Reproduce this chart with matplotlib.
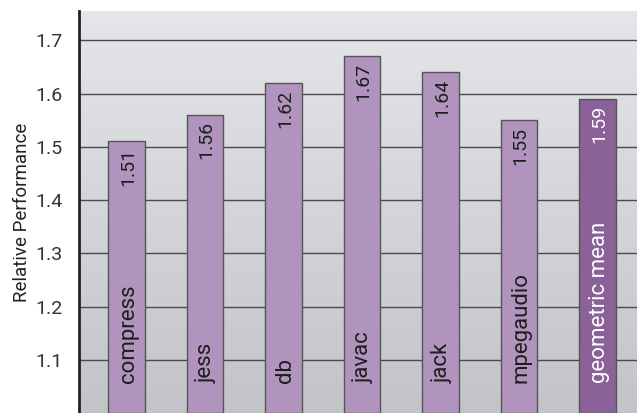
import numpy as np
import matplotlib.pyplot as plt
from matplotlib.colors import LinearSegmentedColormap

plt.rcParams['font.family'] = ['Roboto', 'DejaVu Sans']

benchmarks = ["compress", "jess", "db", "javac", "jack", "mpegaudio", "geometric mean"]
perf = [1.51, 1.56, 1.62, 1.67, 1.64, 1.55, 1.59]
yticks = [1.1, 1.2, 1.3, 1.4, 1.5, 1.6, 1.7]

light = "#b194be"
dark = "#8a6198"

fig = plt.figure(figsize=(6.37, 4.13), dpi=100)
ax = fig.add_axes([79/637, 0, 558/637, 402/413])

ymin, ymax = 1.0, 1.755
xmin, xmax = -0.605, 6.503
ax.set_xlim(xmin, xmax)
ax.set_ylim(ymin, ymax)

# gradient background
grad = np.linspace(0, 1, 256).reshape(-1, 1)
cm = LinearSegmentedColormap.from_list("bg", ["#c3c4c7", "#e5e6e9"])
ax.imshow(grad, cmap=cm, aspect="auto", extent=[xmin, xmax, ymin, ymax],
          origin="lower", zorder=0)

for y in yticks:
    ax.axhline(y, color="#4a4a4a", lw=1.0, zorder=1)

x = np.arange(len(benchmarks))
cols = [light] * (len(benchmarks) - 1) + [dark]
ax.bar(x, [p - ymin for p in perf], bottom=ymin, width=0.47, color=cols,
       edgecolor="#555555", lw=1.0, zorder=2)

for i, (name, p) in enumerate(zip(benchmarks, perf)):
    tc = "white" if i == len(benchmarks) - 1 else "#1e1e1e"
    ax.text(i + 0.02, 1.057, name, rotation=90, ha="center", va="bottom",
            fontsize=16, color=tc, zorder=3)
    ax.text(i + 0.02, p - 0.012, "%.2f" % p, rotation=90, ha="center", va="top",
            fontsize=14, color=tc, zorder=3)

ax.set_yticks(yticks)
ax.set_yticklabels(["%.1f" % y for y in yticks], fontsize=14, color="#333333")
ax.set_xticks([])
ax.tick_params(axis="y", length=0, pad=12)
ax.set_ylabel("Relative Performance", fontsize=13.5, color="#222222", labelpad=3)

for s in ["top", "right", "bottom"]:
    ax.spines[s].set_visible(False)
ax.spines["left"].set_linewidth(2)
ax.spines["left"].set_color("#222222")

fig.savefig("out.png", dpi=100)
